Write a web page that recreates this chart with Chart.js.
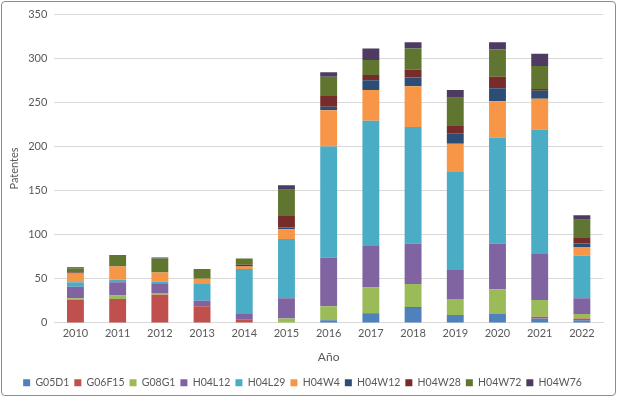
<!DOCTYPE html>
<html>
<head>
<meta charset="utf-8">
<script src="https://cdn.jsdelivr.net/npm/chart.js@4/dist/chart.umd.min.js"></script>
<style>
    html, body { margin: 0; padding: 0; background: #fff; overflow: hidden; }
    #myChart { position: absolute; left: 2px; top: 0; }
    .frame {
        position: absolute; left: 1px; top: 1px;
        width: 613px; height: 393px;
        border: 1px solid #8c8c8c; border-radius: 4px;
        pointer-events: none;
    }
</style>
</head>
<body>
<canvas id="myChart" width="613" height="398"></canvas>
<div class="frame"></div>
<script>
'use strict';

var years = ['2010', '2011', '2012', '2013', '2014', '2015', '2016', '2017', '2018', '2019', '2020', '2021', '2022'];

var G05D1  = [0, 0, 0, 0, 0, 0, 3, 10, 17, 9, 10, 5, 3];
var G06F15 = [26, 27, 32, 19, 4, 0, 0, 1, 1, 0, 0, 2, 2];
var G08G1  = [2, 4, 2, 0, 0, 5, 16, 29, 26, 18, 28, 19, 5];
var H04L12 = [13, 15, 11, 6, 6, 23, 55, 47, 46, 33, 52, 52, 18];
var H04L29 = [5, 3, 2, 19, 51, 67, 126, 142, 132, 111, 120, 141, 48];
var H04W4  = [10, 15, 10, 6, 3, 11, 41, 35, 46, 32, 41, 35, 10];
var H04W12 = [0, 0, 0, 0, 0, 2, 4, 11, 10, 12, 15, 9, 4];
var H04W28 = [1, 0, 0, 0, 2, 13, 12, 6, 9, 9, 13, 2, 7];
var H04W72 = [5, 13, 16, 11, 7, 30, 22, 17, 24, 31, 31, 26, 20];
var H04W76 = [1, 0, 1, 0, 0, 5, 5, 13, 7, 9, 8, 14, 5];

var yTicks = [0, 50, 100, 150, 200, 250, 300, 350];

var series = [
    ['G05D1', G05D1, '#4F81BD'],
    ['G06F15', G06F15, '#C0504D'],
    ['G08G1', G08G1, '#9BBB59'],
    ['H04L12', H04L12, '#8064A2'],
    ['H04L29', H04L29, '#4BACC6'],
    ['H04W4', H04W4, '#F79646'],
    ['H04W12', H04W12, '#2C4D75'],
    ['H04W28', H04W28, '#772C2A'],
    ['H04W72', H04W72, '#5F7530'],
    ['H04W76', H04W76, '#4D3B62']
];

var font = { family: 'Lato, "Open Sans", sans-serif', size: 11 };

var ctx = document.getElementById('myChart').getContext('2d');

var chart = new Chart(ctx, {
    type: 'bar',
    data: {
        labels: years,
        datasets: series.map(function (s) {
            return {
                label: s[0],
                data: s[1],
                backgroundColor: s[2],
                borderWidth: 0,
                barPercentage: 0.4,
                categoryPercentage: 1
            };
        })
    },
    options: {
        responsive: false,
        animation: false,
        layout: { padding: { top: 14, right: 12, left: 0, bottom: 0 } },
        plugins: {
            legend: {
                position: 'bottom',
                labels: { boxWidth: 7, boxHeight: 7, padding: 5, color: '#595959', font: { family: font.family, size: 10.5 } }
            },
            tooltip: { enabled: false }
        },
        scales: {
            x: {
                stacked: true,
                grid: { display: false, drawTicks: false },
                border: { color: '#d9d9d9' },
                ticks: { color: '#595959', font: font, padding: 4 },
                title: { display: true, text: 'Año', color: '#595959', font: { family: font.family, size: 12 }, padding: { top: 6, bottom: 8 } }
            },
            y: {
                stacked: true,
                min: 0,
                max: 350,
                afterBuildTicks: function (axis) {
                    axis.ticks = yTicks.map(function (v) { return { value: v }; });
                },
                grid: { color: '#d9d9d9', drawTicks: false },
                border: { display: false },
                ticks: { color: '#595959', font: font, padding: 7 },
                title: { display: true, text: 'Patentes', color: '#595959', font: font, padding: { top: 6, bottom: 0 } }
            }
        }
    }
});
</script>
</body>
</html>
